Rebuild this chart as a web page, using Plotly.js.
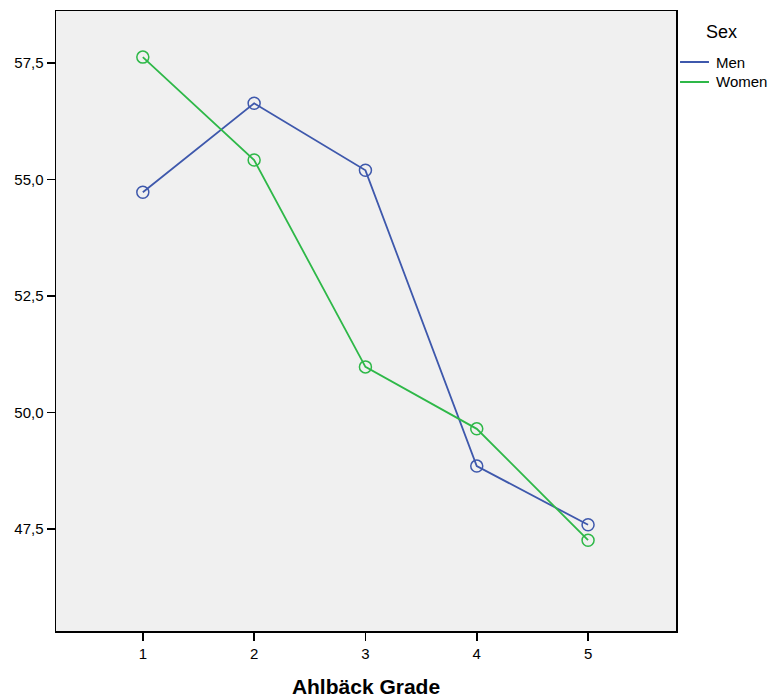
<!DOCTYPE html>
<html><head><meta charset="utf-8">
<script src="https://cdn.plot.ly/plotly-3.0.1.min.js"></script>
<style>body{margin:0;padding:0;background:#fff}#chart{width:773px;height:698px}</style>
</head><body><div id="chart"></div>
<script>
const grades = [1, 2, 3, 4, 5];
const menValues = [54.73, 56.64, 55.20, 48.85, 47.59];
const womenValues = [57.63, 55.42, 50.98, 49.65, 47.26];
const yTicks = [47.5, 50.0, 52.5, 55.0, 57.5];
const seriesNames = ['Men', 'Women'];
const seriesColors = ['#3E58AC', '#2EB848'];
const legendTitle = 'Sex';
const xTitle = 'Ahlbäck Grade';

const mk = (name, y, color) => ({
  x: grades, y: y, name: name, type: 'scatter', mode: 'lines+markers', showlegend: false,
  line: {color: color, width: 1.8},
  marker: {symbol: 'circle-open', size: 12, color: color, line: {width: 1.5, color: color}}
});

const data = [mk(seriesNames[0], menValues, seriesColors[0]), mk(seriesNames[1], womenValues, seriesColors[1])];

// manual legend (outside plot area, paper coords)
const legX0 = 1.0065, legX1 = 1.0532, legTextX = 1.061;
const legY = [0.9177, 0.8855];
const shapes = seriesNames.map((n, i) => ({
  type: 'line', xref: 'paper', yref: 'paper', x0: legX0, x1: legX1, y0: legY[i], y1: legY[i],
  line: {color: seriesColors[i], width: 2}
}));
const annotations = seriesNames.map((n, i) => ({
  xref: 'paper', yref: 'paper', x: legTextX, y: legY[i], xanchor: 'left', yanchor: 'middle',
  text: n, showarrow: false, font: {size: 15, color: '#000'}
}));
annotations.push({
  xref: 'paper', yref: 'paper', x: 1.074, y: 0.966, xanchor: 'center', yanchor: 'middle',
  text: legendTitle, showarrow: false, font: {size: 18, color: '#000'}
});

const layout = {
  width: 773, height: 698,
  margin: {l: 56, r: 97, t: 11, b: 67},
  paper_bgcolor: '#ffffff', plot_bgcolor: '#f0f0f0',
  separators: ',.',
  font: {family: 'Liberation Sans, Arial, sans-serif', color: '#000'},
  showlegend: false,
  xaxis: {
    range: [0.22, 5.79], tickvals: grades, ticks: 'outside', ticklen: 8, tickwidth: 1.5, tickcolor: '#000',
    showgrid: false, zeroline: false, showline: true, linecolor: '#000', linewidth: 1.5, mirror: true,
    tickfont: {size: 15},
    title: {text: '<b>' + xTitle + '</b>', font: {size: 21}, standoff: 20}
  },
  yaxis: {
    range: [45.31, 58.62], tickvals: yTicks, tickformat: '.1f', ticks: 'outside', ticklen: 8, tickwidth: 1.5, tickcolor: '#000',
    showgrid: false, zeroline: false, showline: true, linecolor: '#000', linewidth: 1.5, mirror: true,
    tickfont: {size: 15}
  },
  shapes: shapes,
  annotations: annotations
};

Plotly.newPlot('chart', data, layout, {displayModeBar: false, staticPlot: true});
</script></body></html>
